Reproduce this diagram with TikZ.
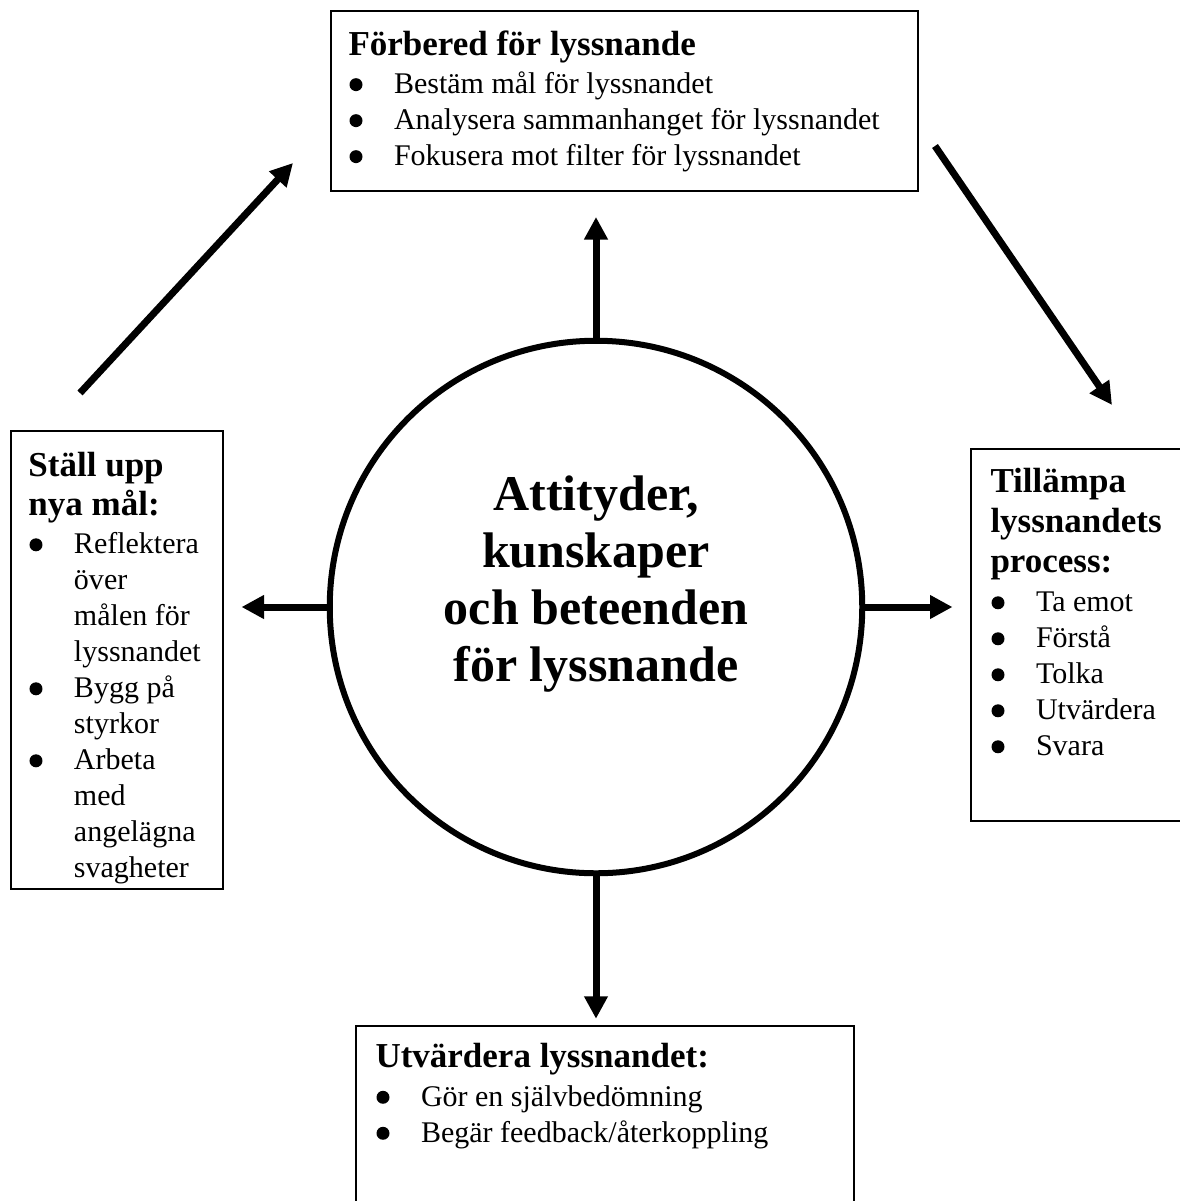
\documentclass[tikz,border=0pt]{standalone}
\usepackage{fontspec}
\setmainfont{Liberation Serif}
\usetikzlibrary{arrows.meta, positioning, calc}

\newcommand{\boxhead}[1]{{\fontsize{14}{15.4}\selectfont\bfseries #1}}
\newcommand{\bul}{\makebox[18.2pt][l]{\hspace{0.4pt}\tikz[baseline=-3.6pt]\fill (2.6pt,0pt) circle[radius=2.6pt];}}
\newcommand{\cont}{\hspace*{18.2pt}}

\begin{document}
\begin{tikzpicture}[
  x=0.4pt, y=-0.4pt,
  frame/.style = {draw, line width=0.8pt, inner sep=0pt, anchor=north west},
  txt/.style   = {inner sep=0pt, anchor=north west, align=left, font=\fontsize{12}{14.4}\selectfont},
  circ/.style  = {draw, circle, line width=2.4pt, minimum size=213pt, inner sep=0pt},
  arrow/.style = {line width=2.8pt, -{Triangle[length=9pt, width=9pt]}}
]
  \useasboundingbox (0,0) rectangle (1180,1201);

  % centre circle
  \node[circ] (core) at (596,607) {};
  \node[align=center, inner sep=0pt, anchor=north,
        font=\fontsize{20}{22.8}\selectfont\bfseries] (coretext)
        at ([yshift=52.8pt]core.center)
        {Attityder,\\kunskaper\\och beteenden\\för lyssnande};

  % Förbered box
  \node[frame, minimum width=234.8pt, minimum height=72pt] (prep) at (330,10) {};
  \node[txt] (preptext) at ([shift={(18,20)}]prep.north west) {
    \boxhead{Förbered för lyssnande}\\[1pt]
    \bul Bestäm mål för lyssnandet\\
    \bul Analysera sammanhanget för lyssnandet\\
    \bul Fokusera mot filter för lyssnandet
  };

  % Ställ upp box
  \node[frame, minimum width=84.8pt, minimum height=183.2pt] (goals) at (10,430) {};
  \node[txt] (goalstext) at ([shift={(18,22)}]goals.north west) {
    \boxhead{Ställ upp}\\[1pt]
    \boxhead{nya mål:}\\[1pt]
    \bul Reflektera\\ \cont över\\ \cont målen för\\ \cont lyssnandet\\
    \bul Bygg på\\ \cont styrkor\\
    \bul Arbeta\\ \cont med\\ \cont angelägna\\ \cont svagheter
  };

  % Tillämpa box
  \node[frame, minimum width=96pt, minimum height=148.8pt] (apply) at (970,448) {};
  \node[txt] (applytext) at ([shift={(20,20)}]apply.north west) {
    \boxhead{Tillämpa}\\[1.6pt]
    \boxhead{lyssnandets}\\[1.6pt]
    \boxhead{process:}\\[1.2pt]
    \bul Ta emot\\
    \bul Förstå\\
    \bul Tolka\\
    \bul Utvärdera\\
    \bul Svara
  };

  % Utvärdera box
  \node[frame, minimum width=199.2pt, minimum height=84pt] (review) at (355,1025) {};
  \node[txt] (reviewtext) at ([shift={(20,18)}]review.north west) {
    \boxhead{Utvärdera lyssnandet:}\\[1pt]
    \bul Gör en självbedömning\\
    \bul Begär feedback/återkoppling
  };

  % arrows out of the circle
  \draw[arrow, shorten >=10pt] (core) -- (core |- prep.south);
  \draw[arrow, shorten >=2.5pt] (core) -- (core |- review.north);
  \draw[arrow, shorten >=7pt] (core) -- (core -| goals.east);
  \draw[arrow, shorten >=7pt] (core) -- (core -| apply.west);

  % cycle arrows
  \coordinate (cycA) at (80,393);
  \coordinate (cycB) at (293,163);
  \coordinate (cycC) at (935,146);
  \coordinate (cycD) at (1112,405);
  \draw[arrow] (cycA) -- (cycB);
  \draw[arrow] (cycC) -- (cycD);

\end{tikzpicture}
\end{document}
